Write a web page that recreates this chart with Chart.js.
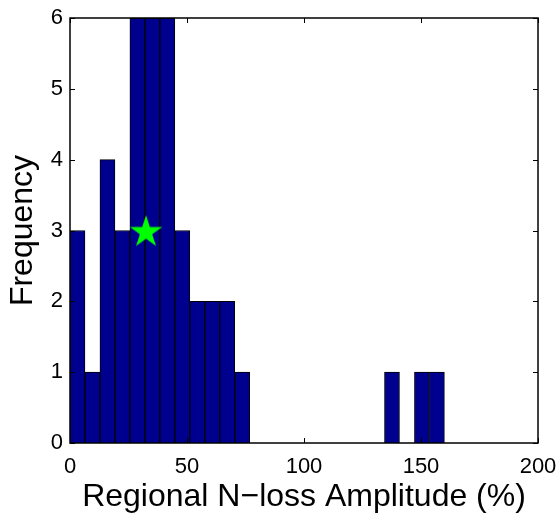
<!DOCTYPE html>
<html>
<head>
<meta charset="utf-8">
<script src="https://cdn.jsdelivr.net/npm/chart.js@4.4.1/dist/chart.umd.min.js"></script>
<style>
html,body{margin:0;padding:0;background:#fff;}
#wrap{width:560px;height:515px;}
</style>
</head>
<body>
<div id="wrap"><canvas id="c" width="560" height="515"></canvas></div>
<script>
// Histogram bins (centres, % units) and counts
const binCenters = [3.2, 9.6, 16, 22.4, 28.8, 35.2, 41.6, 48, 54.4, 60.8, 67.2, 73.6, 80, 86.4, 92.8, 99.2, 105.6, 112, 118.4, 124.8, 131.2, 137.6, 144, 150.4, 156.8];
const counts = [3, 1, 4, 3, 6, 6, 6, 3, 2, 2, 2, 1, 0, 0, 0, 0, 0, 0, 0, 0, 0, 1, 0, 1, 1];
// Marker (star)
const starPoint = [{x: 32.5, y: 3}];
// Tick values
const xTicks = [0, 50, 100, 150, 200];
const yTicks = [0, 1, 2, 3, 4, 5, 6];
const xTitle = 'Regional N\u2212loss Amplitude (%)';
const yTitle = 'Frequency';

const FONT = '"Liberation Sans", Arial, Helvetica, sans-serif';

function makeStar(R) {
  const c = document.createElement('canvas');
  const s = Math.ceil(R * 2 + 2);
  c.width = s; c.height = s;
  const g = c.getContext('2d');
  const cx = s / 2, cy = s / 2 + R * 0.1;
  const r = R * 0.382;
  g.beginPath();
  for (let i = 0; i < 10; i++) {
    const rad = i % 2 === 0 ? R : r;
    const a = -Math.PI / 2 + i * Math.PI / 5;
    const px = cx + rad * Math.cos(a), py = cy + rad * Math.sin(a);
    if (i === 0) g.moveTo(px, py); else g.lineTo(px, py);
  }
  g.closePath();
  g.fillStyle = '#00ff00';
  g.fill();
  return c;
}

const boxPlugin = {
  id: 'box',
  afterDatasetsDraw(chart) {
    const {ctx, chartArea: a, scales} = chart;
    ctx.save();
    ctx.strokeStyle = '#000';
    ctx.lineWidth = 1.5;
    ctx.strokeRect(a.left, a.top, a.right - a.left, a.bottom - a.top);
    ctx.lineWidth = 1;
    const L = 5;
    ctx.beginPath();
    xTicks.forEach(v => {
      const px = Math.round(scales.x.getPixelForValue(v)) + 0.5;
      ctx.moveTo(px, a.bottom); ctx.lineTo(px, a.bottom - L);
      ctx.moveTo(px, a.top); ctx.lineTo(px, a.top + L);
    });
    yTicks.forEach(v => {
      const py = Math.round(scales.y.getPixelForValue(v)) + 0.5;
      ctx.moveTo(a.left, py); ctx.lineTo(a.left + L, py);
      ctx.moveTo(a.right, py); ctx.lineTo(a.right - L, py);
    });
    ctx.stroke();
    ctx.restore();
  }
};

new Chart(document.getElementById('c'), {
  type: 'bar',
  data: {
    datasets: [
      {
        type: 'scatter',
        data: starPoint,
        pointStyle: makeStar(17),
        pointRadius: 17,
        order: 1
      },
      {
        type: 'bar',
        data: binCenters.map((x, i) => ({x: x, y: counts[i]})),
        backgroundColor: '#00008f',
        borderColor: '#000000',
        borderWidth: 1,
        barPercentage: 1,
        categoryPercentage: 1,
        order: 2
      }
    ]
  },
  plugins: [boxPlugin],
  options: {
    responsive: false,
    animation: false,
    layout: {padding: {top: 15, right: 22, left: 0, bottom: 0}},
    plugins: {legend: {display: false}, tooltip: {enabled: false}},
    scales: {
      x: {
        type: 'linear',
        min: 0, max: 200,
        offset: false,
        afterBuildTicks: s => { s.ticks = xTicks.map(v => ({value: v})); },
        afterFit: s => { s.height = 72; s.paddingLeft = 0; s.paddingRight = 0; },
        grid: {display: false, drawTicks: false},
        border: {display: false},
        ticks: {color: '#000', font: {family: FONT, size: 22}, padding: 11, maxRotation: 0},
        title: {display: true, text: xTitle, color: '#000', font: {family: FONT, size: 32, lineHeight: 1.1}, padding: {top: 0, bottom: 0}}
      },
      y: {
        type: 'linear',
        min: 0, max: 6,
        afterBuildTicks: s => { s.ticks = yTicks.map(v => ({value: v})); },
        afterFit: s => { s.width = 70; s.paddingTop = 0; s.paddingBottom = 0; },
        grid: {display: false, drawTicks: false},
        border: {display: false},
        ticks: {color: '#000', font: {family: FONT, size: 22}, padding: 7},
        title: {display: true, text: yTitle, color: '#000', font: {family: FONT, size: 32, lineHeight: 1.1}, padding: {top: 6, bottom: 0}}
      }
    }
  }
});
</script>
</body>
</html>
